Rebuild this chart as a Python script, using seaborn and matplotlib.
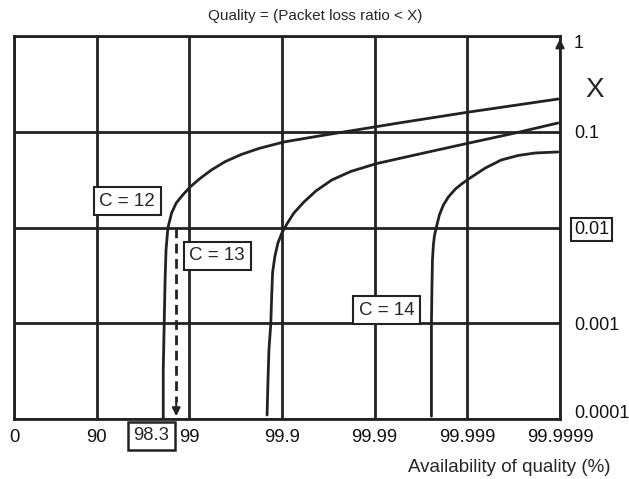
import matplotlib
matplotlib.use("Agg")
import matplotlib.pyplot as plt
import matplotlib.transforms as mtransforms
import seaborn as sns
import pandas as pd

# Eje x: "número de nueves" de disponibilidad (90 -> 1, 99 -> 2, 99.9 -> 3 ...)
x_tick_pos = [0.11, 1, 2, 3, 4, 5, 6]
x_tick_labels = ['0', '90', '99', '99.9', '99.99', '99.999', '99.9999']
y_ticks = [0.0001, 0.001, 0.01, 0.1, 1]
y_tick_labels = ['0.0001', '0.001', '0.01', '0.1', '1']

# Curvas: nueves vs. ratio de pérdida de paquetes X
c12_nines = [1.72, 1.72, 1.73, 1.74, 1.75, 1.77, 1.81, 1.86, 1.93, 2.01, 2.11, 2.24, 2.39, 2.56, 2.75,
             3.02, 3.40, 3.83, 4.26, 5.02, 5.98]
c12_loss = [0.0001, 0.000325, 0.000959, 0.00283, 0.00582, 0.00988, 0.01417, 0.01803, 0.02183, 0.02649,
            0.03214, 0.0399, 0.04887, 0.05781, 0.06683, 0.07816, 0.0903, 0.1055, 0.1234, 0.1608, 0.2198]
c13_nines = [2.84, 2.85, 2.86, 2.88, 2.89, 2.90, 2.925, 2.957, 3.00, 3.054, 3.129, 3.237, 3.366, 3.538,
             3.742, 4.022, 4.258, 4.581, 5.022, 5.516, 5.978]
c13_loss = [0.00011, 0.000255, 0.000526, 0.000982, 0.00197, 0.00343, 0.00504, 0.00689, 0.00877, 0.01089,
            0.01417, 0.01845, 0.02404, 0.03133, 0.03846, 0.04656, 0.05236, 0.0615, 0.07638, 0.097, 0.1234]
c14_nines = [4.613, 4.613, 4.613, 4.618, 4.624, 4.634, 4.645, 4.667, 4.699, 4.742, 4.796, 4.871, 4.946,
             5.022, 5.194, 5.366, 5.548, 5.731, 5.978]
c14_loss = [0.000107, 0.000325, 0.000982, 0.00222, 0.00458, 0.00656, 0.00815, 0.01012, 0.01352, 0.01718,
            0.02084, 0.02523, 0.02884, 0.03251, 0.04178, 0.0507, 0.05649, 0.06, 0.0615]

# Disponibilidad 98.3 % para X = 0.01 con C = 12
marker_nines = 1.86
marker_loss = 0.01

ink = '#222222'

frames = []
for name, xs, ys in [('C = 12', c12_nines, c12_loss),
                     ('C = 13', c13_nines, c13_loss),
                     ('C = 14', c14_nines, c14_loss)]:
    frames.append(pd.DataFrame({'curva': name, 'nueves': xs, 'perdida': ys}))
df = pd.concat(frames, ignore_index=True)

sns.set_style("white")
plt.rcParams['font.family'] = ['Liberation Sans', 'DejaVu Sans']

fig = plt.figure(figsize=(6.29, 4.79), dpi=100)
ax = fig.add_axes([14 / 629, 1 - 419 / 479, 546 / 629, 383 / 479])

sns.lineplot(data=df, x='nueves', y='perdida', units='curva', estimator=None, sort=False,
             color=ink, lw=2.0, ax=ax)

ax.set_yscale('log')
ax.set_xlim(0.11, 6)
ax.set_ylim(0.0001, 1)
ax.minorticks_off()

ax.set_xticks(x_tick_pos)
ax.set_xticklabels(x_tick_labels, fontsize=13.3)
ax.set_yticks(y_ticks)
ax.set_yticklabels(y_tick_labels, fontsize=13)
ax.yaxis.tick_right()
ax.tick_params(axis='both', length=0, colors='#111111')
ax.tick_params(axis='x', pad=7)
ax.tick_params(axis='y', pad=10)

ylabels = ax.get_yticklabels()
ylabels[2].set_bbox(dict(boxstyle='square,pad=0.15', fc='white', ec=ink, lw=1.5))
# pequeños desplazamientos de las etiquetas extremas
ylabels[0].set_transform(ylabels[0].get_transform() +
                         mtransforms.ScaledTranslation(0, 8 / 100, fig.dpi_scale_trans))
ylabels[4].set_transform(ylabels[4].get_transform() +
                         mtransforms.ScaledTranslation(0, -5 / 100, fig.dpi_scale_trans))

ax.grid(True, which='major', color=ink, lw=2)
for s in ax.spines.values():
    s.set_color(ink)
    s.set_linewidth(2)
ax.set_xlabel('')
ax.set_ylabel('')

# Línea discontinua con flecha
ax.plot([marker_nines, marker_nines], [marker_loss, 0.00015], color=ink, lw=2, ls=(0, (3.5, 2)))
ax.annotate('', xy=(marker_nines, 0.0001), xytext=(marker_nines, 0.00016),
            arrowprops=dict(arrowstyle='-|>', color=ink, lw=1.5, mutation_scale=12))

# Flecha del eje derecho
ax.annotate('', xy=(1, 1.0), xytext=(1, 0.96), xycoords='axes fraction',
            arrowprops=dict(arrowstyle='-|>', color=ink, lw=1.5, mutation_scale=13))

box = dict(boxstyle='square,pad=0.3', fc='white', ec=ink, lw=1.5)
ax.text(1.333, 0.0189, 'C = 12', fontsize=13.5, ha='center', va='center', bbox=box)
ax.text(2.301, 0.00504, 'C = 13', fontsize=13.5, ha='center', va='center', bbox=box)
ax.text(4.129, 0.00137, 'C = 14', fontsize=13.5, ha='center', va='center', bbox=box)
ax.text(1.59, -0.044, '98.3', fontsize=13.3, ha='center', va='center',
        bbox=dict(boxstyle='square,pad=0.3', fc='white', ec=ink, lw=1.8),
        transform=ax.get_xaxis_transform(), clip_on=False)

fig.text(315 / 629, 1 - 16 / 479, 'Quality = (Packet loss ratio < X)', fontsize=11, ha='center', va='center')
fig.text(595 / 629, 1 - 90 / 479, 'X', fontsize=20, ha='center', va='center')
fig.text(610 / 629, 1 - 467 / 479, 'Availability of quality (%)', fontsize=13.5, ha='right', va='center')

fig.savefig('out.png', dpi=100)
